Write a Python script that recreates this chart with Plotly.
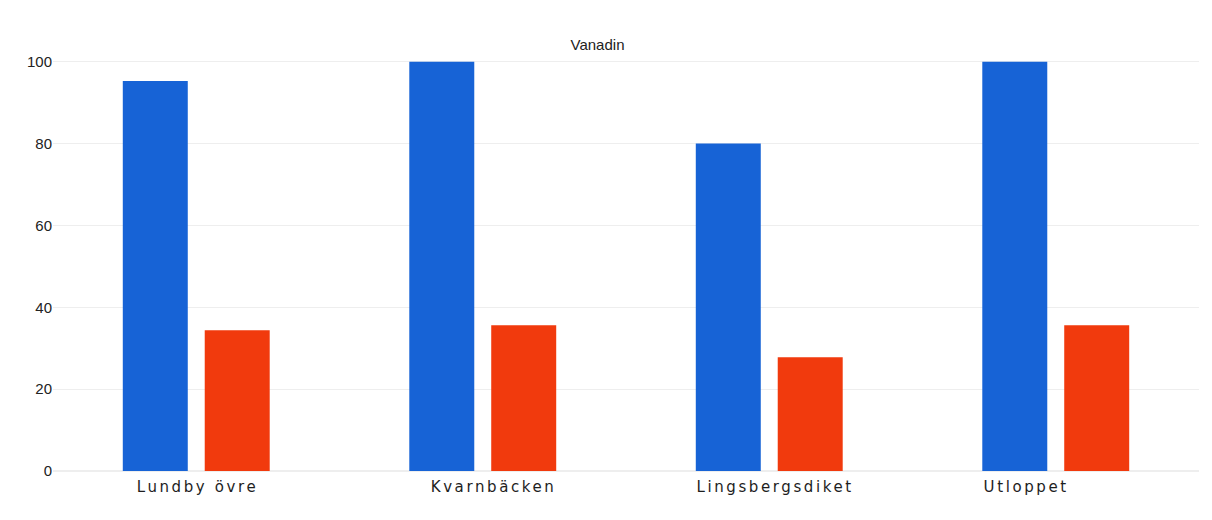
import plotly.graph_objects as go

categories = ["Lundby övre", "Kvarnbäcken", "Lingsbergsdiket", "Utloppet"]
series_a = [95.3, 100, 80, 100]
series_b = [34.4, 35.6, 27.8, 35.6]
y_ticks = [0, 20, 40, 60, 80, 100]

# horizontal nudges for the category captions (px)
label_shifts = [1, 11, 6, -30]

fig = go.Figure()
fig.add_trace(go.Bar(x=categories, y=series_a, marker_color="#1763d6",
                     marker_line_width=0, showlegend=False))
fig.add_trace(go.Bar(x=categories, y=series_b, marker_color="#f13a0d",
                     marker_line_width=0, showlegend=False))

for cat, dx in zip(categories, label_shifts):
    fig.add_annotation(x=cat, y=0, xref="x", yref="paper", text=cat,
                       showarrow=False, xanchor="center", yanchor="top",
                       xshift=dx, yshift=-5,
                       font=dict(family="DejaVu Sans, Arial", size=15, color="#1e1e1e"))

fig.update_layout(
    width=1212, height=520,
    margin=dict(l=53, r=13, t=60, b=49),
    paper_bgcolor="white", plot_bgcolor="white",
    barmode="group", bargap=0.428, bargroupgap=0.207,
    font=dict(family="Liberation Sans, Arial", size=15, color="#222222"),
    title=dict(text="Vanadin", x=0.493, xanchor="center", y=0.913, yanchor="middle",
               font=dict(family="Liberation Sans, Arial", size=15, color="#222222")),
)
fig.update_xaxes(showgrid=False, showline=False, ticks="", showticklabels=False)
fig.update_yaxes(range=[0, 100.4], tickvals=y_ticks, showgrid=True,
                 gridcolor="#eeeeee", gridwidth=1, zeroline=True,
                 zerolinecolor="#eeeeee", ticks="", ticklen=0,
                 tickfont=dict(family="Liberation Sans, Arial", size=15, color="#222222"))

# widen the caption lettering
spacing_js = """
document.querySelectorAll('.annotation-text').forEach(function (t) {
  t.style.letterSpacing = '2.6px';
});
"""

fig.write_html("out.html", post_script=spacing_js)
